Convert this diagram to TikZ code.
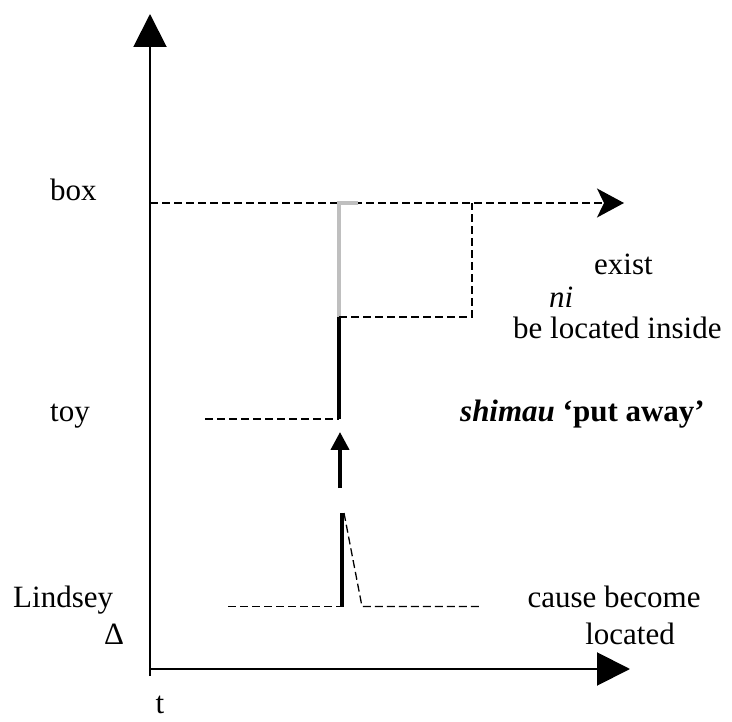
\documentclass[tikz,border=0pt]{standalone}
\usepackage{fontspec}
\setmainfont{Liberation Serif}
\usetikzlibrary{arrows.meta}
\begin{document}
\begin{tikzpicture}[x=1pt,y=-1pt,
  lbl/.style={inner sep=0pt,font=\fontsize{31}{37}\selectfont},
  axis/.style={line width=2pt,-{Triangle[length=33pt,width=33pt]}},
  guide/.style={line width=1.3pt,dash pattern=on 8pt off 4pt},
  bar/.style={line width=4.5pt},
  greybar/.style={line width=4.5pt,color=black!25}]
\useasboundingbox (0,0) rectangle (732,722);

% axes
\coordinate (origin) at (150,669);
\coordinate (ytop) at (150,14);
\coordinate (xend) at (630,669);
\coordinate (ybot) at (150,676);
\draw[line width=2pt] (ybot) -- (origin);
\draw[axis] (origin) -- (ytop);
\draw[axis] (origin) -- (xend);

% box line
\coordinate (boxstart) at (150,203);
\coordinate (boxend) at (624,203);
\draw[guide,-{Stealth[length=27pt,width=29pt,inset=7pt]}] (boxstart) -- (boxend);

% inside region
\coordinate (g1) at (339,317);
\coordinate (g2) at (339,203);
\coordinate (g3) at (358,203);
\coordinate (r1) at (472,203);
\coordinate (r2) at (472,317);
\draw[greybar] (g1) -- (g2);
\draw[greybar] ([xshift=-2.25pt]g2) -- (g3);
\draw[guide] (g1) -- (r2) -- (r1);

% toy line
\coordinate (toyL) at (205,419);
\coordinate (toyR) at (339,419);
\draw[guide] (toyL) -- (toyR);
\draw[bar] (toyR) -- (g1);

% causal arrow
\coordinate (ca1) at (340,488);
\coordinate (ca2) at (340,432);
\draw[line width=4pt,-{Triangle[length=18pt,width=18pt]}] (ca1) -- (ca2);

% Lindsey line with spike
\coordinate (lL) at (228,606.5);
\coordinate (sb) at (342,606.5);
\coordinate (st) at (342,513);
\coordinate (sf) at (362,606.5);
\coordinate (lR) at (480,606.5);
\draw[guide] (lL) -- (sb);
\draw[bar] (sb) -- (st);
\draw[guide] ([xshift=2pt]st) -- (sf) -- (lR);

% labels
\node[lbl,anchor=base west] (box) at (50,201) {box};
\node[lbl,anchor=base west] (toy) at (50,421) {toy};
\node[lbl,anchor=base west] (lindsey) at (13,607) {Lindsey};
\node[lbl,anchor=base west] (delta) at (104,644) {Δ};
\node[lbl,anchor=base] (t) at (160,713) {t};
\node[lbl,anchor=base west] (exist) at (594,275) {exist};
\node[lbl,anchor=base west] (ni) at (549,308) {\itshape ni};
\node[lbl,anchor=base west] (inside) at (513,339) {be located inside};
\node[lbl,anchor=base west] (shimau) at (460,421) {\bfseries\itshape shimau\upshape{} ‘put away’};
\node[lbl,anchor=base] (cause) at (614,607) {cause become};
\node[lbl,anchor=base] (located) at (630,644) {located};
\end{tikzpicture}
\end{document}
